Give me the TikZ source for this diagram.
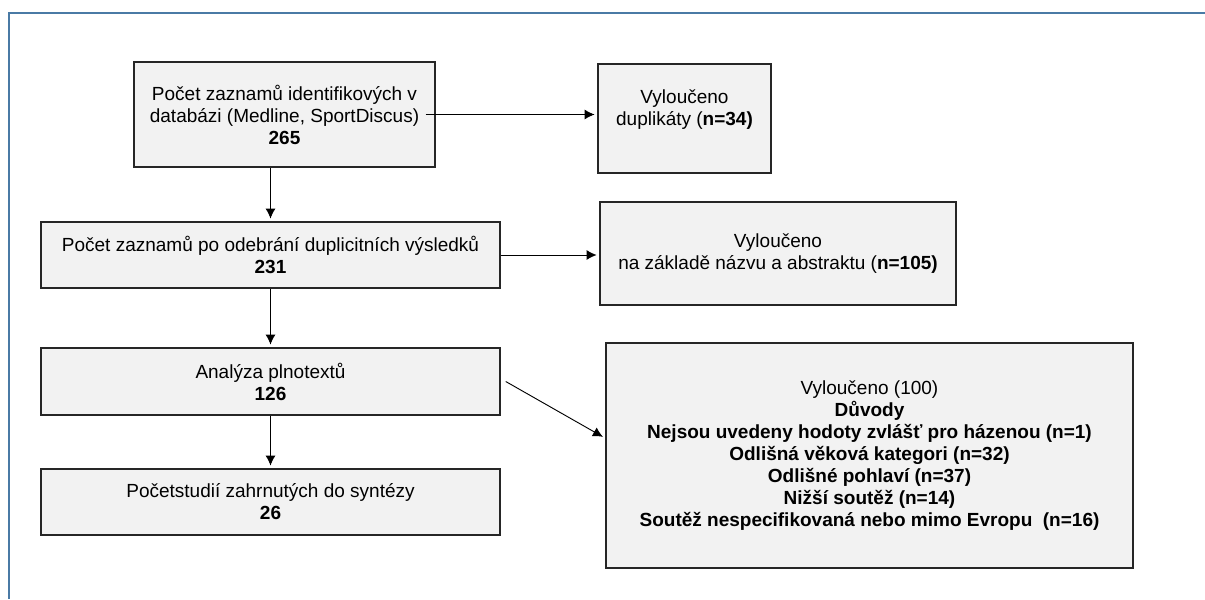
\documentclass[tikz,border=0pt]{standalone}
\usepackage{fontspec}
\setmainfont{Liberation Sans}
\usetikzlibrary{arrows.meta,shapes}
\definecolor{framecol}{RGB}{74,122,165}
\definecolor{boxfill}{RGB}{242,242,242}
\tikzstyle{box}=[draw=black!85,fill=boxfill,line width=1.1pt,align=center,inner sep=2pt,font=\fontsize{14.25}{16.5}\selectfont]
\tikzstyle{edge}=[draw,line width=0.7pt,shorten >=2pt,-{Latex[length=7.5pt,width=7.5pt]}]

\begin{document}
\begin{tikzpicture}[x=0.75pt,y=-0.75pt]
    \useasboundingbox (0,0) rectangle (1205,599);
    % Frame round the chart
    \draw[framecol,line width=1.5pt] (1205,13) -- (9,13) -- (9,599);
    % First we draw the boxes
    \node[box,minimum width=225.75pt,minimum height=78.75pt] (b1) at (284.5,114.5)
        {Počet zaznamů identifikových v\\ databázi (Medline, SportDiscus)\\ \textbf{265}};
    \node[box,minimum width=344.25pt,minimum height=49.5pt] (b2) at (270.5,255)
        {Počet zaznamů po odebrání duplicitních výsledků\\ \textbf{231}};
    \node[box,minimum width=344.25pt,minimum height=50.25pt] (b3) at (270.5,381.5)
        {Analýza plnotextů\\ \textbf{126}};
    \node[box,minimum width=344.25pt,minimum height=49.5pt] (b4) at (270.5,502)
        {Početstudií zahrnutých do syntézy\\ \textbf{26}};
    \node[box,minimum width=129.75pt,minimum height=81.75pt] (r1) at (684.5,118.5)
        {Vyloučeno\\ duplikáty (\textbf{n=34)}\\ \mbox{}};
    \node[box,minimum width=267pt,minimum height=77.25pt] (r2) at (778,253.5)
        {Vyloučeno\\ na základě názvu a abstraktu (\textbf{n=105)}};
    \node[box,minimum width=395.25pt,minimum height=168.75pt] (big) at (869.5,455.5)
        {Vyloučeno (100)\\ \textbf{Důvody}\\
         \textbf{Nejsou uvedeny hodoty zvlášť pro házenou (n=1)}\\
         \textbf{Odlišná věková kategori (n=32)}\\
         \textbf{Odlišné pohlaví (n=37)}\\
         \textbf{Nižší soutěž (n=14)}\\
         \textbf{Soutěž nespecifikovaná nebo mimo Evropu\ \ (n=16)}};
    % Connect boxes with arrows
    \path[edge] (b2.north |- b1.south) -- (b2.north);
    \foreach \source/\dest in {b2/b3, b3/b4}
        \path[edge] (\source) -- (\dest);
    \path[edge] ([xshift=-7.5pt]b1.east) -- (b1.east -| r1.west);
    \path[edge] (b2.east) -- (b2.east -| r2.west);
    \path[edge] ([xshift=3.75pt]b3.east) -- ([yshift=13pt]big.west);
\end{tikzpicture}
\end{document}
